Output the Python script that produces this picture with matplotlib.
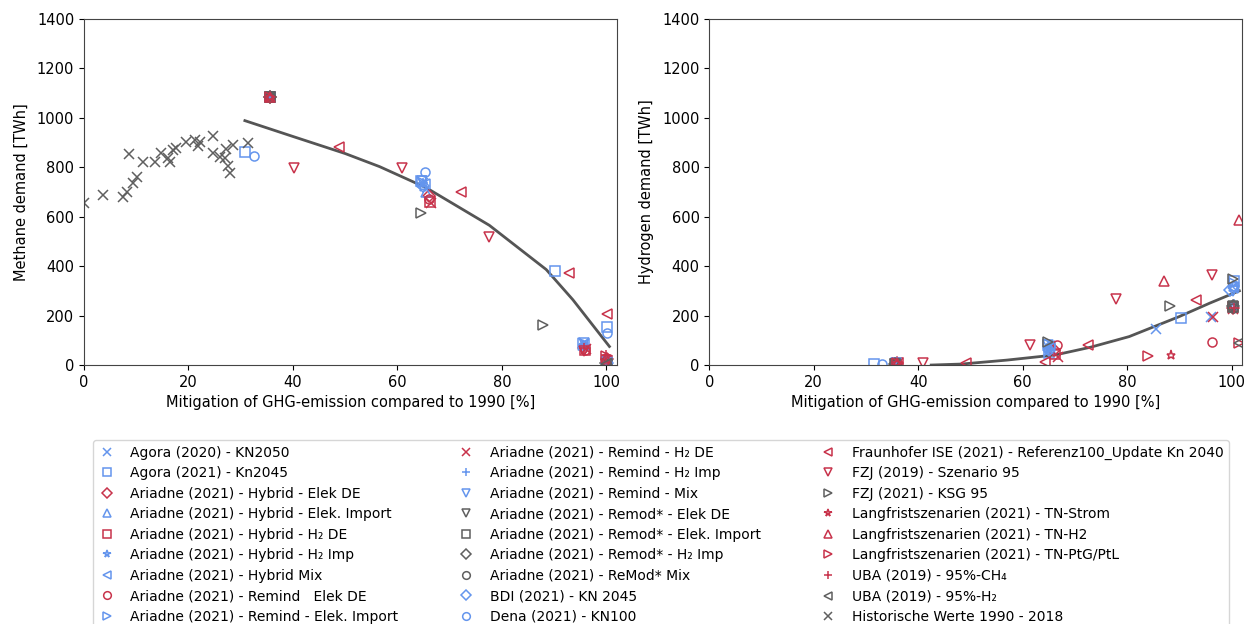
import matplotlib
matplotlib.use("Agg")
import matplotlib.pyplot as plt

BLUE = "#6495ED"
RED = "#C8334B"
GREY = "#5F5F5F"

# ---------------- data ----------------
labels = [
    "Agora (2020) - KN2050",
    "Agora (2021) - Kn2045",
    "Ariadne (2021) - Hybrid - Elek DE",
    "Ariadne (2021) - Hybrid - Elek. Import",
    "Ariadne (2021) - Hybrid - H₂ DE",
    "Ariadne (2021) - Hybrid - H₂ Imp",
    "Ariadne (2021) - Hybrid Mix",
    "Ariadne (2021) - Remind   Elek DE",
    "Ariadne (2021) - Remind - Elek. Import",
    "Ariadne (2021) - Remind - H₂ DE",
    "Ariadne (2021) - Remind - H₂ Imp",
    "Ariadne (2021) - Remind - Mix",
    "Ariadne (2021) - Remod* - Elek DE",
    "Ariadne (2021) - Remod* - Elek. Import",
    "Ariadne (2021) - Remod* - H₂ Imp",
    "Ariadne (2021) - ReMod* Mix",
    "BDI (2021) - KN 2045",
    "Dena (2021) - KN100",
    "Fraunhofer ISE (2021) - Referenz100_Update Kn 2040",
    "FZJ (2019) - Szenario 95",
    "FZJ (2021) - KSG 95",
    "Langfristszenarien (2021) - TN-Strom",
    "Langfristszenarien (2021) - TN-H2",
    "Langfristszenarien (2021) - TN-PtG/PtL",
    "UBA (2019) - 95%-CH₄",
    "UBA (2019) - 95%-H₂",
    "Historische Werte 1990 - 2018",
]
markers = ["x", "s", "D", "^", "s", "*", "<", "o", ">", "x", "+", "v",
           "v", "s", "D", "o", "D", "o", "<", "v", ">", "*", "^", ">", "+", "<", "x"]
colors = [BLUE, BLUE, RED, BLUE, RED, BLUE, BLUE, RED, BLUE, RED, BLUE, BLUE,
          GREY, GREY, GREY, GREY, BLUE, BLUE, RED, RED, GREY, RED, RED, RED, RED, GREY, GREY]

# methane demand [TWh] vs. mitigation [%]
methane_x = [
    [65.0, 95.8],
    [30.9, 64.6, 90.1, 100.1],
    [35.6, 66.0, 95.8, 100.1],
    [35.6, 65.5, 95.5, 100.1],
    [35.6, 66.3, 96.0, 100.2],
    [35.6, 65.0, 95.6, 100.0],
    [35.6, 65.2, 95.7, 100.1],
    [35.6, 66.1, 95.9, 100.0],
    [35.6, 64.8, 95.5, 100.2],
    [35.6, 66.4, 96.1, 100.2],
    [35.6, 65.0, 95.6, 100.1],
    [35.6, 64.7, 95.8, 100.0],
    [35.6, 100.0],
    [35.6, 100.1],
    [35.6, 100.0],
    [35.6, 100.2],
    [65.0, 100.1],
    [32.5, 65.3, 100.1],
    [48.8, 72.1, 92.8, 100.1],
    [40.2, 60.9, 77.6, 95.8],
    [64.6, 87.8, 100.2],
    [35.6, 100.0],
    [35.6, 100.0],
    [35.6, 100.0],
    [95.8, 100.0],
    [100.0],
    [0.0, 3.7, 7.5, 8.2, 8.7, 9.4, 10.1, 11.3, 13.6, 14.8, 16.1, 16.4, 17.1, 17.7,
     19.6, 21.2, 21.8, 22.2, 24.7, 24.7, 26.0, 26.9, 27.2, 27.6, 27.9, 28.5, 31.4],
]
methane_y = [
    [735, 88],
    [863, 744, 379, 155],
    [1082, 683, 68, 25],
    [1082, 700, 80, 20],
    [1082, 660, 62, 15],
    [1082, 720, 75, 10],
    [1082, 730, 85, 12],
    [1082, 670, 60, 30],
    [1082, 740, 88, 5],
    [1082, 655, 65, 20],
    [1082, 735, 80, 8],
    [1082, 745, 90, 12],
    [1082, 3],
    [1082, 5],
    [1082, 8],
    [1082, 4],
    [725, 10],
    [844, 782, 131],
    [882, 701, 372, 207],
    [798, 798, 518, 55],
    [613, 162, 5],
    [1082, 10],
    [1082, 30],
    [1082, 35],
    [70, 40],
    [5],
    [655, 687, 680, 700, 852, 737, 759, 822, 822, 856, 838, 822, 869, 876,
     903, 909, 885, 903, 926, 856, 842, 835, 872, 804, 775, 889, 896],
]

# hydrogen demand [TWh] vs. mitigation [%]
hydrogen_x = [
    [65.0, 85.5, 96.0],
    [31.5, 65.0, 90.4, 100.4],
    [36.0, 66.0, 100.3],
    [35.8, 65.3, 100.4],
    [36.1, 66.2, 100.2],
    [35.9, 65.0, 100.4],
    [35.7, 65.2, 100.3],
    [36.0, 66.5, 96.2],
    [35.8, 64.9, 100.5],
    [36.2, 66.8, 96.5, 100.3],
    [35.9, 65.1, 100.4],
    [35.7, 64.8, 100.3],
    [35.6, 100.2],
    [35.6, 100.3],
    [35.6, 100.2],
    [35.6, 100.3],
    [65.0, 99.7],
    [33.0, 65.3, 100.4],
    [49.2, 64.3, 72.6, 93.2],
    [40.9, 61.4, 77.9, 96.2],
    [64.9, 88.2, 100.3],
    [36.0, 88.5],
    [36.0, 87.0, 101.5],
    [36.0, 84.0, 101.4],
    [100.4],
    [101.4],
    [],
]
hydrogen_y = [
    [55, 146, 193],
    [5, 50, 192, 338],
    [10, 60, 230],
    [10, 70, 320],
    [10, 45, 235],
    [10, 65, 240],
    [10, 75, 310],
    [10, 81, 95],
    [10, 85, 330],
    [10, 34, 193, 225],
    [10, 60, 245],
    [10, 80, 300],
    [5, 240],
    [5, 235],
    [5, 238],
    [5, 232],
    [60, 302],
    [5, 75, 320],
    [7, 13, 79, 264],
    [9, 81, 267, 365],
    [95, 237, 349],
    [10, 41],
    [10, 341, 586],
    [10, 38, 88],
    [230],
    [90],
    [],
]

# fitted trend curves
methane_fit_x = [30.8, 40.0, 50.0, 56.6, 65.5, 77.6, 88.5, 93.6, 100.6]
methane_fit_y = [988, 924, 855, 802, 717, 565, 386, 264, 75]
hydrogen_fit_x = [42.5, 48.3, 57.0, 66.3, 73.0, 80.4, 90.0, 95.8, 101.5]
hydrogen_fit_y = [0, 4, 20, 41, 72, 115, 196, 250, 300]

xticks = [0, 20, 40, 60, 80, 100]
yticks = [0, 200, 400, 600, 800, 1000, 1200, 1400]

# ---------------- plot ----------------
plt.rcParams["font.family"] = ["DejaVu Sans"]
fig = plt.figure(figsize=(12.52, 6.24), dpi=100)
ax1 = fig.add_axes([0.0671, 0.415, 0.4255, 0.555])
ax2 = fig.add_axes([0.5665, 0.415, 0.4255, 0.555])

handles = []
for i, lab in enumerate(labels):
    h, = ax1.plot(methane_x[i], methane_y[i], linestyle="none", marker=markers[i],
                  markersize=6.5, markerfacecolor="none", markeredgecolor=colors[i],
                  markeredgewidth=1.1, label=lab)
    handles.append(h)
    ax2.plot(hydrogen_x[i], hydrogen_y[i], linestyle="none", marker=markers[i],
             markersize=6.5, markerfacecolor="none", markeredgecolor=colors[i],
             markeredgewidth=1.1)

ax1.plot(methane_fit_x, methane_fit_y, color="#555555", lw=2, zorder=1)
ax2.plot(hydrogen_fit_x, hydrogen_fit_y, color="#555555", lw=2, zorder=1)

for ax, yl in ((ax1, "Methane demand [TWh]"), (ax2, "Hydrogen demand [TWh]")):
    ax.set_xlim(0, 102)
    ax.set_ylim(0, 1400)
    ax.set_xticks(xticks)
    ax.set_yticks(yticks)
    ax.tick_params(labelsize=10.5)
    ax.set_xlabel("Mitigation of GHG-emission compared to 1990 [%]", fontsize=10.5)
    ax.set_ylabel(yl, fontsize=10.5, labelpad=6)
    for s in ax.spines.values():
        s.set_color("#444444")

fig.legend(handles=handles, loc="upper left", ncol=3,
           bbox_to_anchor=(93 / 1252, 1 - 440 / 624),
           fontsize=10, frameon=True, borderaxespad=0.0, markerscale=0.85,
           handlelength=1.2, handletextpad=1.1, labelspacing=0.47,
           columnspacing=4.25)

fig.savefig("out.png", dpi=100)
